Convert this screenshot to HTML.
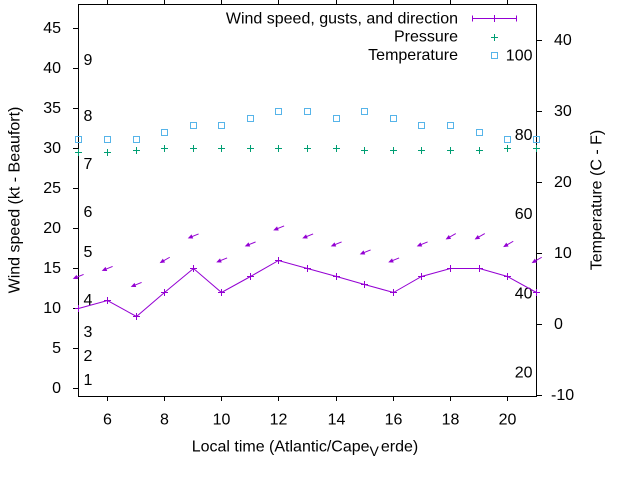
<!DOCTYPE html>
<html><head><meta charset="utf-8"><style>
html,body{margin:0;padding:0;background:#fff;}
svg{display:block;}
text{font-family:"Liberation Sans",Arial,sans-serif;font-size:16px;fill:#000;}
</style></head><body>
<svg width="640" height="480" viewBox="0 0 640 480" xmlns="http://www.w3.org/2000/svg">
<defs>
<g id="arrA"><line x1="5.1" y1="-2.06" x2="-3" y2="1.2" stroke="#9400d3" stroke-width="1"/><polygon points="-5.1,2.06 -0.72,2.23 -2.07,-1.11" fill="#9400d3" stroke="#9400d3" stroke-width="0.6"/></g>
<g id="arrB"><line x1="4.76" y1="-2.75" x2="-3" y2="1.7" stroke="#9400d3" stroke-width="1"/><polygon points="-4.76,2.75 -0.4,2.31 -2.2,-0.81" fill="#9400d3" stroke="#9400d3" stroke-width="0.6"/></g>
</defs>

<!-- border -->
<rect x="78.5" y="4.5" width="458" height="392" fill="none" stroke="#000" stroke-width="1" shape-rendering="crispEdges"/>

<!-- ticks -->
<g stroke="#000" stroke-width="1" shape-rendering="crispEdges">
<path d="M73 388.5H78.5M73 348.5H78.5M73 308.5H78.5M73 268.5H78.5M73 228.5H78.5M73 188.5H78.5M73 148.5H78.5M73 108.5H78.5M73 68.5H78.5M73 28.5H78.5"/>
<path d="M536.5 40.5H542M536.5 111.5H542M536.5 182.5H542M536.5 253.5H542M536.5 324.5H542M536.5 395.5H542"/>
<path d="M107.5 396.5V401M164.5 396.5V401M221.5 396.5V401M278.5 396.5V401M336.5 396.5V401M393.5 396.5V401M450.5 396.5V401M507.5 396.5V401"/>
<path d="M107.5 0V4.5M164.5 0V4.5M221.5 0V4.5M278.5 0V4.5M336.5 0V4.5M393.5 0V4.5M450.5 0V4.5M507.5 0V4.5"/>
</g>

<!-- left tick labels -->
<g text-anchor="end">
<text x="61" y="393.2">0</text>
<text x="61" y="353.2">5</text>
<text x="61" y="313.2">10</text>
<text x="61" y="273.2">15</text>
<text x="61" y="233.2">20</text>
<text x="61" y="193.2">25</text>
<text x="61" y="153.2">30</text>
<text x="61" y="113.2">35</text>
<text x="61" y="73.2">40</text>
<text x="61" y="33.2">45</text>
</g>

<!-- right tick labels -->
<g>
<text x="554" y="45.2">40</text>
<text x="554" y="116.2">30</text>
<text x="554" y="187.2">20</text>
<text x="554" y="258.2">10</text>
<text x="554" y="329.2">0</text>
<text x="551" y="400.2">-10</text>
</g>

<!-- bottom tick labels -->
<g text-anchor="middle">
<text x="107.5" y="424.5">6</text>
<text x="164.5" y="424.5">8</text>
<text x="221.5" y="424.5">10</text>
<text x="278.5" y="424.5">12</text>
<text x="336.5" y="424.5">14</text>
<text x="393.5" y="424.5">16</text>
<text x="450.5" y="424.5">18</text>
<text x="507.5" y="424.5">20</text>
</g>

<!-- Beaufort labels -->
<g>
<text x="83.5" y="385.2">1</text>
<text x="83.5" y="361.2">2</text>
<text x="83.5" y="337.2">3</text>
<text x="83.5" y="305.2">4</text>
<text x="83.5" y="257.2">5</text>
<text x="83.5" y="217.2">6</text>
<text x="83.5" y="169.2">7</text>
<text x="83.5" y="121.2">8</text>
<text x="83.5" y="65.2">9</text>
</g>

<!-- Fahrenheit labels -->
<g text-anchor="end">
<text x="532.5" y="60.7">100</text>
<text x="532.5" y="140">80</text>
<text x="532.5" y="219">60</text>
<text x="532.5" y="298.3">40</text>
<text x="532.5" y="377.7">20</text>
</g>

<!-- axis labels -->
<text transform="translate(19.3,200) rotate(-90)" text-anchor="middle">Wind speed (kt - Beaufort)</text>
<text transform="translate(601.5,200) rotate(-90)" text-anchor="middle">Temperature (C - F)</text>
<text x="191.7" y="451.7">Local time (Atlantic/Cape<tspan dy="4.3" font-size="14">V</tspan><tspan dy="-4.3" dx="2">erde)</tspan></text>

<!-- temperature squares -->
<g fill="none" stroke="#56b4e9" stroke-width="1" shape-rendering="crispEdges">
<rect x="75.5" y="136.5" width="6" height="6"/>
<rect x="104.5" y="136.5" width="6" height="6"/>
<rect x="133.5" y="136.5" width="6" height="6"/>
<rect x="161.5" y="129.5" width="6" height="6"/>
<rect x="190.5" y="122.5" width="6" height="6"/>
<rect x="218.5" y="122.5" width="6" height="6"/>
<rect x="247.5" y="115.5" width="6" height="6"/>
<rect x="275.5" y="108.5" width="6" height="6"/>
<rect x="304.5" y="108.5" width="6" height="6"/>
<rect x="333.5" y="115.5" width="6" height="6"/>
<rect x="361.5" y="108.5" width="6" height="6"/>
<rect x="390.5" y="115.5" width="6" height="6"/>
<rect x="418.5" y="122.5" width="6" height="6"/>
<rect x="447.5" y="122.5" width="6" height="6"/>
<rect x="476.5" y="129.5" width="6" height="6"/>
<rect x="504.5" y="136.5" width="6" height="6"/>
<rect x="533.5" y="136.5" width="6" height="6"/>
<rect x="491.5" y="52.5" width="6" height="6"/>
</g>

<!-- pressure plus -->
<g stroke="#009e73" stroke-width="1" shape-rendering="crispEdges" fill="none">
<path d="M75 152.5h7M78.5 149v7
M104 152.5h7M107.5 149v7
M133 150.5h7M136.5 147v7
M161 148.5h7M164.5 145v7
M190 148.5h7M193.5 145v7
M218 148.5h7M221.5 145v7
M247 148.5h7M250.5 145v7
M275 148.5h7M278.5 145v7
M304 148.5h7M307.5 145v7
M333 148.5h7M336.5 145v7
M361 150.5h7M364.5 147v7
M390 150.5h7M393.5 147v7
M418 150.5h7M421.5 147v7
M447 150.5h7M450.5 147v7
M476 150.5h7M479.5 147v7
M504 148.5h7M507.5 145v7
M533 148.5h7M536.5 145v7
M491 37.5h7M494.5 34v7"/>
</g>

<!-- wind line -->
<polyline fill="none" stroke="#9400d3" stroke-width="1" points="78.5,308.5 107.5,300.5 136.5,316.5 164.5,292.5 193.5,268.5 221.5,292.5 250.5,276.5 278.5,260.5 307.5,268.5 336.5,276.5 364.5,284.5 393.5,292.5 421.5,276.5 450.5,268.5 479.5,268.5 507.5,276.5 536.5,292.5"/>
<g stroke="#9400d3" stroke-width="1" shape-rendering="crispEdges" fill="none">
<path d="M104 300.5h7M107.5 297v7
M133 316.5h7M136.5 313v7
M161 292.5h7M164.5 289v7
M190 268.5h7M193.5 265v7
M218 292.5h7M221.5 289v7
M247 276.5h7M250.5 273v7
M275 260.5h7M278.5 257v7
M304 268.5h7M307.5 265v7
M333 276.5h7M336.5 273v7
M361 284.5h7M364.5 281v7
M390 292.5h7M393.5 289v7
M418 276.5h7M421.5 273v7
M447 268.5h7M450.5 265v7
M476 268.5h7M479.5 265v7
M504 276.5h7M507.5 273v7
M533 292.5h7M536.5 289v7
M75 308.5h4M78.5 305v7"/>
<path d="M472.5 18.5H516.5M472.5 15.5v6M516.5 15.5v6M494.5 15v7"/>
</g>

<!-- gust arrows -->
<use href="#arrA" transform="translate(78.5,276.5)"/>
<use href="#arrA" transform="translate(107.5,268.5)"/>
<use href="#arrA" transform="translate(136.5,284.5)"/>
<use href="#arrB" transform="translate(165,260)"/>
<use href="#arrA" transform="translate(193.5,236)"/>
<use href="#arrA" transform="translate(222,260)"/>
<use href="#arrA" transform="translate(250.5,244)"/>
<use href="#arrA" transform="translate(279,228)"/>
<use href="#arrA" transform="translate(308,236)"/>
<use href="#arrA" transform="translate(336.5,244)"/>
<use href="#arrA" transform="translate(365.5,252)"/>
<use href="#arrA" transform="translate(394,260)"/>
<use href="#arrA" transform="translate(422.5,244)"/>
<use href="#arrB" transform="translate(451,236.3)"/>
<use href="#arrB" transform="translate(480,236.3)"/>
<use href="#arrB" transform="translate(508.5,244)"/>
<use href="#arrB" transform="translate(537,260)"/>

<!-- legend text -->
<g text-anchor="end">
<text x="458" y="23.3">Wind speed, gusts, and direction</text>
<text x="458" y="41.7">Pressure</text>
<text x="458" y="60.2">Temperature</text>
</g>
</svg>
</body></html>
